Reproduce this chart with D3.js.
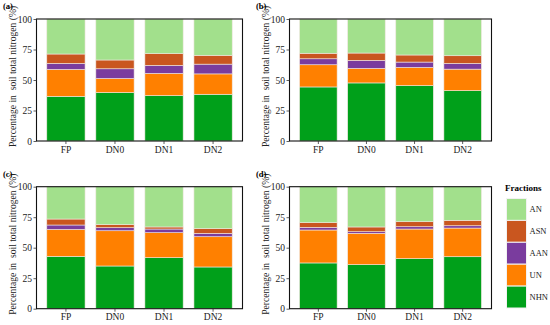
<!DOCTYPE html>
<html>
<head>
<meta charset="utf-8">
<script src="https://cdn.jsdelivr.net/npm/d3@7"></script>
<style>
  body { margin: 0; background: #fff; }
  svg { display: block; }
  text { font-family: "Liberation Serif", "Times New Roman", serif; }
</style>
</head>
<body>
<script>
// treatments on the x axis, nitrogen fractions stacked bottom -> top
var categories = ["FP", "DN0", "DN1", "DN2"];
var fractions = ["NHN", "UN", "AAN", "ASN", "AN"];
var legendOrder = ["AN", "ASN", "AAN", "UN", "NHN"];
var yTicks = [0, 25, 50, 75, 100];

// percentage of each fraction, one value per treatment
var panelA = {
  NHN: [36.6, 39.7, 37.2, 38.3],
  UN:  [22.1, 11.5, 18.2, 16.7],
  AAN: [4.9, 8.0, 6.6, 8.0],
  ASN: [7.7, 7.2, 9.6, 7.2],
  AN:  [28.7, 33.6, 28.4, 29.8]
};
var panelB = {
  NHN: [44.3, 47.6, 45.4, 41.3],
  UN:  [18.2, 11.9, 14.9, 17.6],
  AAN: [4.9, 6.6, 4.4, 4.7],
  ASN: [4.5, 6.0, 5.8, 6.3],
  AN:  [28.1, 27.9, 29.5, 30.1]
};
var panelC = {
  NHN: [42.9, 35.0, 41.8, 34.2],
  UN:  [22.1, 28.9, 20.5, 24.8],
  AAN: [3.6, 2.5, 3.0, 2.8],
  ASN: [4.9, 2.5, 1.7, 3.8],
  AN:  [26.5, 31.1, 33.0, 34.4]
};
var panelD = {
  NHN: [37.5, 36.1, 41.0, 42.6],
  UN:  [27.0, 25.7, 24.3, 23.5],
  AAN: [2.2, 1.3, 1.9, 1.9],
  ASN: [3.8, 3.9, 4.1, 4.4],
  AN:  [29.5, 33.0, 28.7, 27.6]
};

var colors = d3.scaleOrdinal()
    .domain(fractions)
    .range(["#00a01a", "#ff8000", "#7a3c9e", "#c9561f", "#a2e08c"]);

var svg = d3.select("body").append("svg")
    .attr("width", 550).attr("height", 325);

var panels = [
  {label: "(a)", data: panelA, left: 36.5, right: 242.5, top: 19, bottom: 141, lx: 3, ly: 9},
  {label: "(b)", data: panelB, left: 289.5, right: 491.5, top: 19, bottom: 141, lx: 256, ly: 9},
  {label: "(c)", data: panelC, left: 36.5, right: 242.5, top: 186.7, bottom: 308.7, lx: 3, ly: 177},
  {label: "(d)", data: panelD, left: 289.5, right: 491.5, top: 186.7, bottom: 308.7, lx: 256, ly: 177}
];

panels.forEach(function(p) {
  var rows = categories.map(function(c, i) {
    var r = {cat: c};
    fractions.forEach(function(f) { r[f] = p.data[f][i]; });
    return r;
  });
  var series = d3.stack().keys(fractions)(rows);

  var x = d3.scaleBand()
      .domain(categories)
      .range([p.left, p.right])
      .paddingInner(0.22)
      .paddingOuter(0.21);
  var y = d3.scaleLinear()
      .domain([0, 100])
      .range([p.bottom, p.top]);

  var g = svg.append("g");

  g.selectAll("g.layer")
    .data(series)
    .enter().append("g")
      .attr("class", "layer")
      .attr("fill", function(d) { return colors(d.key); })
    .selectAll("rect")
    .data(function(d) { return d; })
    .enter().append("rect")
      .attr("x", function(d) { return x(d.data.cat); })
      .attr("y", function(d) { return y(d[1]); })
      .attr("width", x.bandwidth())
      .attr("height", function(d) { return y(d[0]) - y(d[1]); })
      .attr("stroke", "#f0e6e0")
      .attr("stroke-width", 0.6);

  // panel border
  g.append("rect")
    .attr("x", p.left).attr("y", p.top)
    .attr("width", p.right - p.left).attr("height", p.bottom - p.top)
    .attr("fill", "none").attr("stroke", "#111").attr("stroke-width", 1.1);

  var yAxis = d3.axisLeft(y).tickValues(yTicks).tickSize(3).tickPadding(1.5);
  var xAxis = d3.axisBottom(x).tickSize(3).tickPadding(2);

  var ya = g.append("g").attr("transform", "translate(" + p.left + ",0)").call(yAxis);
  var xa = g.append("g").attr("transform", "translate(0," + p.bottom + ")").call(xAxis);
  [ya, xa].forEach(function(a) {
    a.select(".domain").remove();
    a.selectAll(".tick line").attr("stroke", "#333").attr("stroke-width", 0.8);
    a.selectAll(".tick text")
      .attr("fill", "#222")
      .style("font-family", "Liberation Serif, serif")
      .style("font-size", "9.5px");
  });

  g.append("text")
    .attr("transform", "translate(" + (p.left - 20.5) + "," + ((p.top + p.bottom) / 2 - 3.5) + ") rotate(-90)")
    .attr("text-anchor", "middle")
    .attr("fill", "#222")
    .style("font-size", "9.6px")
    .style("white-space", "pre")
    .text("Percentage in  soil total nitrogen (%)");

  g.append("text")
    .attr("x", p.lx).attr("y", p.ly)
    .attr("font-weight", "bold")
    .style("font-size", "8.5px")
    .text(p.label);
});

// legend
var legend = svg.append("g");
legend.append("text")
  .attr("x", 505).attr("y", 190.5)
  .attr("font-weight", "bold")
  .style("font-size", "9px")
  .text("Fractions");

var key = d3.scaleBand().domain(legendOrder).range([198.5, 308]);

legend.selectAll("rect")
  .data(legendOrder)
  .enter().append("rect")
    .attr("x", 506.5)
    .attr("y", function(d) { return key(d); })
    .attr("width", 20)
    .attr("height", key.bandwidth())
    .attr("fill", function(d) { return colors(d); })
    .attr("stroke", "#f2f2f2")
    .attr("stroke-width", 1);

legend.selectAll("text.lab")
  .data(legendOrder)
  .enter().append("text")
    .attr("class", "lab")
    .attr("x", 529.5)
    .attr("y", function(d) { return key(d) + key.bandwidth() / 2 + 3; })
    .attr("fill", "#222")
    .style("font-size", "8.5px")
    .text(function(d) { return d; });
</script>
</body>
</html>
